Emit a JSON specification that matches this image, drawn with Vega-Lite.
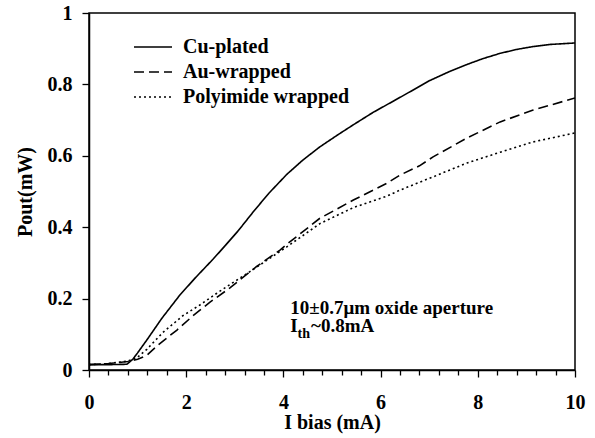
{
  "$schema": "https://vega.github.io/schema/vega-lite/v6.json",
  "width": 486,
  "height": 357,
  "autosize": "none",
  "padding": {"left": 89, "top": 13, "right": 20, "bottom": 68},
  "background": "white",
  "config": {
    "view": {"stroke": "black", "strokeWidth": 1.5},
    "font": "Liberation Serif",
    "axis": {
      "domainColor": "black", "domainWidth": 1.5, "tickColor": "black", "tickWidth": 1.3,
      "labelFont": "Liberation Serif", "labelFontWeight": "bold", "labelFontSize": 20, "labelColor": "black",
      "titleFont": "Liberation Serif", "titleFontWeight": "bold", "titleFontSize": 20, "titleColor": "black",
      "grid": false, "labelOverlap": false
    }
  },
  "resolve": {"axis": {"x": "independent"}},
  "datasets": {
    "curves": [
      {"s": "Cu-plated", "I": 0, "P": 0.015}, {"s": "Cu-plated", "I": 0.4, "P": 0.015}, {"s": "Cu-plated", "I": 0.78, "P": 0.016},
      {"s": "Cu-plated", "I": 0.9, "P": 0.03}, {"s": "Cu-plated", "I": 1.0, "P": 0.048}, {"s": "Cu-plated", "I": 1.19, "P": 0.084},
      {"s": "Cu-plated", "I": 1.5, "P": 0.145}, {"s": "Cu-plated", "I": 1.87, "P": 0.21}, {"s": "Cu-plated", "I": 2.2, "P": 0.26},
      {"s": "Cu-plated", "I": 2.55, "P": 0.31}, {"s": "Cu-plated", "I": 2.8, "P": 0.348}, {"s": "Cu-plated", "I": 3.07, "P": 0.39},
      {"s": "Cu-plated", "I": 3.38, "P": 0.443}, {"s": "Cu-plated", "I": 3.7, "P": 0.495}, {"s": "Cu-plated", "I": 4.07, "P": 0.548},
      {"s": "Cu-plated", "I": 4.4, "P": 0.588}, {"s": "Cu-plated", "I": 4.75, "P": 0.625}, {"s": "Cu-plated", "I": 5.1, "P": 0.657},
      {"s": "Cu-plated", "I": 5.44, "P": 0.687}, {"s": "Cu-plated", "I": 5.85, "P": 0.722}, {"s": "Cu-plated", "I": 6.26, "P": 0.753},
      {"s": "Cu-plated", "I": 6.6, "P": 0.779}, {"s": "Cu-plated", "I": 7.0, "P": 0.81}, {"s": "Cu-plated", "I": 7.4, "P": 0.835},
      {"s": "Cu-plated", "I": 7.78, "P": 0.856}, {"s": "Cu-plated", "I": 8.1, "P": 0.872},
      {"s": "Cu-plated", "I": 8.46, "P": 0.887}, {"s": "Cu-plated", "I": 8.8, "P": 0.898}, {"s": "Cu-plated", "I": 9.14, "P": 0.906},
      {"s": "Cu-plated", "I": 9.5, "P": 0.912}, {"s": "Cu-plated", "I": 10, "P": 0.916},
      {"s": "Au-wrapped", "I": 0, "P": 0.015}, {"s": "Au-wrapped", "I": 0.4, "P": 0.018}, {"s": "Au-wrapped", "I": 0.8, "P": 0.024},
      {"s": "Au-wrapped", "I": 1.0, "P": 0.03}, {"s": "Au-wrapped", "I": 1.19, "P": 0.041}, {"s": "Au-wrapped", "I": 1.42, "P": 0.07},
      {"s": "Au-wrapped", "I": 1.81, "P": 0.112}, {"s": "Au-wrapped", "I": 2.14, "P": 0.152}, {"s": "Au-wrapped", "I": 2.49, "P": 0.19},
      {"s": "Au-wrapped", "I": 2.9, "P": 0.23}, {"s": "Au-wrapped", "I": 3.45, "P": 0.29}, {"s": "Au-wrapped", "I": 3.93, "P": 0.336},
      {"s": "Au-wrapped", "I": 4.07, "P": 0.352}, {"s": "Au-wrapped", "I": 4.75, "P": 0.425}, {"s": "Au-wrapped", "I": 5.44, "P": 0.476},
      {"s": "Au-wrapped", "I": 6.13, "P": 0.523}, {"s": "Au-wrapped", "I": 6.4, "P": 0.546}, {"s": "Au-wrapped", "I": 6.8, "P": 0.572},
      {"s": "Au-wrapped", "I": 7.08, "P": 0.597}, {"s": "Au-wrapped", "I": 7.78, "P": 0.65}, {"s": "Au-wrapped", "I": 8.46, "P": 0.695},
      {"s": "Au-wrapped", "I": 9.14, "P": 0.728}, {"s": "Au-wrapped", "I": 10, "P": 0.762},
      {"s": "Polyimide wrapped", "I": 0, "P": 0.015}, {"s": "Polyimide wrapped", "I": 0.4, "P": 0.018}, {"s": "Polyimide wrapped", "I": 0.8, "P": 0.025},
      {"s": "Polyimide wrapped", "I": 1.0, "P": 0.036}, {"s": "Polyimide wrapped", "I": 1.19, "P": 0.058}, {"s": "Polyimide wrapped", "I": 1.52, "P": 0.105},
      {"s": "Polyimide wrapped", "I": 1.93, "P": 0.152}, {"s": "Polyimide wrapped", "I": 2.28, "P": 0.182}, {"s": "Polyimide wrapped", "I": 2.63, "P": 0.215},
      {"s": "Polyimide wrapped", "I": 2.94, "P": 0.243}, {"s": "Polyimide wrapped", "I": 3.25, "P": 0.27}, {"s": "Polyimide wrapped", "I": 3.6, "P": 0.302},
      {"s": "Polyimide wrapped", "I": 4.07, "P": 0.345}, {"s": "Polyimide wrapped", "I": 4.75, "P": 0.41}, {"s": "Polyimide wrapped", "I": 5.44, "P": 0.455},
      {"s": "Polyimide wrapped", "I": 6.13, "P": 0.487}, {"s": "Polyimide wrapped", "I": 6.4, "P": 0.504}, {"s": "Polyimide wrapped", "I": 7.08, "P": 0.541},
      {"s": "Polyimide wrapped", "I": 7.78, "P": 0.58}, {"s": "Polyimide wrapped", "I": 8.46, "P": 0.61}, {"s": "Polyimide wrapped", "I": 9.14, "P": 0.639},
      {"s": "Polyimide wrapped", "I": 10, "P": 0.664}
    ],
    "notes": [
      {"x": 4.14, "y": 0.157, "t": "10±0.7μm oxide aperture"},
      {"x": 4.14, "y": 0.107, "t": "I"},
      {"x": 4.57, "y": 0.107, "t": "~0.8mA"}
    ],
    "subs": [
      {"x": 4.29, "y": 0.091, "t": "th"}
    ]
  },
  "layer": [
    {
      "data": {"name": "curves"},
      "mark": {"type": "line", "color": "black", "strokeWidth": 1.6, "clip": true},
      "encoding": {
        "x": {
          "field": "I", "type": "quantitative",
          "scale": {"domain": [0, 10], "nice": false, "zero": false},
          "axis": {
            "orient": "bottom",
            "title": "I bias (mA)",
            "values": [0, 2, 4, 6, 8, 10],
            "format": "d",
            "tickSize": 7,
            "labelPadding": 15,
            "titlePadding": 0,
            "labelFlush": false
          }
        },
        "y": {
          "field": "P", "type": "quantitative",
          "scale": {"domain": [0, 1], "nice": false},
          "axis": {
            "title": "Pout(mW)",
            "values": [0, 0.1, 0.2, 0.3, 0.4, 0.5, 0.6, 0.7, 0.8, 0.9, 1],
            "labelExpr": "round(datum.value * 10) % 2 === 0 ? format(datum.value, '~g') : ''",
            "tickSize": {"condition": {"test": "round(datum.value * 10) % 2 === 0", "value": 7}, "value": 5},
            "labelPadding": 10,
            "titlePadding": 12,
            "labelFlush": false
          }
        },
        "strokeDash": {
          "field": "s", "type": "nominal",
          "scale": {"domain": ["Cu-plated", "Au-wrapped", "Polyimide wrapped"], "range": [[1, 0], [10, 5], [2, 3]]},
          "legend": {
            "orient": "none", "legendX": 53, "legendY": 23, "title": null,
            "symbolType": "M-1.9,0H1.9", "symbolSize": 400, "symbolStrokeWidth": 1.6, "symbolStrokeColor": "black", "symbolFillColor": "transparent",
            "labelFont": "Liberation Serif", "labelFontWeight": "bold", "labelFontSize": 20, "labelColor": "black",
            "labelOffset": 19, "rowPadding": 4, "labelLimit": 400
          }
        },
        "order": {"field": "I", "type": "quantitative"}
      }
    },
    {
      "data": {"name": "notes"},
      "mark": {"type": "text", "align": "left", "baseline": "alphabetic", "font": "Liberation Serif", "fontWeight": "bold", "fontSize": 19, "color": "black"},
      "encoding": {
        "x": {
          "field": "x", "type": "quantitative",
          "axis": {
            "orient": "bottom", "title": null, "labels": false, "domain": false, "tickSize": 5,
            "values": [0.4, 0.8, 1.2, 1.6, 2.4, 2.8, 3.2, 3.6, 4.4, 4.8, 5.2, 5.6, 6.4, 6.8, 7.2, 7.6, 8.4, 8.8, 9.2, 9.6]
          }
        },
        "y": {"field": "y", "type": "quantitative"},
        "text": {"field": "t"}
      }
    },
    {
      "data": {"name": "subs"},
      "mark": {"type": "text", "align": "left", "baseline": "alphabetic", "font": "Liberation Serif", "fontWeight": "bold", "fontSize": 14, "color": "black"},
      "encoding": {
        "x": {"field": "x", "type": "quantitative", "axis": null},
        "y": {"field": "y", "type": "quantitative"},
        "text": {"field": "t"}
      }
    }
  ]
}
